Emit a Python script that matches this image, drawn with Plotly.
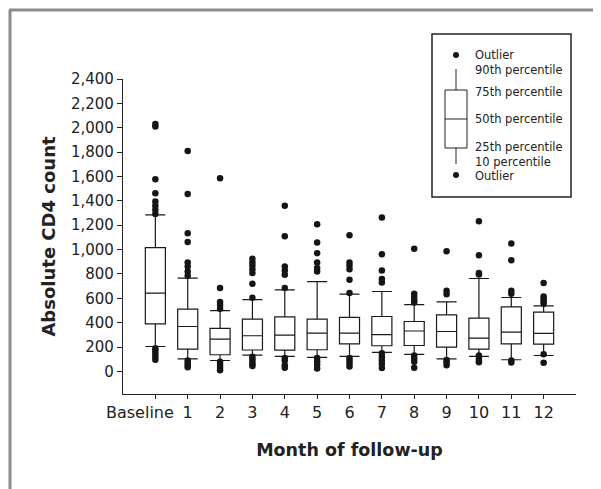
import plotly.graph_objects as go

categories = ["Baseline", "1", "2", "3", "4", "5", "6", "7", "8", "9", "10", "11", "12"]
p10 = [205, 104, 90, 134, 123, 115, 123, 156, 140, 104, 123, 96, 131]
q1 = [391, 183, 137, 176, 175, 178, 227, 211, 213, 200, 183, 227, 224]
median = [643, 369, 266, 293, 298, 315, 315, 303, 332, 328, 274, 323, 312]
q3 = [1017, 512, 353, 430, 448, 430, 443, 451, 410, 465, 438, 530, 487]
p90 = [1285, 766, 500, 590, 670, 738, 634, 656, 548, 571, 763, 607, 539]
outliers = [
    [2030, 2010, 1577, 1463, 1394, 1359, 1326, 1293, 190, 170, 145, 120, 96],
    [1810, 1457, 1135, 1063, 894, 861, 820, 785, 90, 70, 50, 35],
    [1586, 684, 570, 545, 515, 80, 55, 30, 10],
    [924, 897, 869, 839, 807, 719, 604, 120, 100, 80, 60, 45],
    [1359, 1110, 861, 828, 793, 684, 110, 90, 50, 30],
    [1208, 1058, 971, 894, 848, 820, 110, 82, 55, 25],
    [1118, 894, 867, 839, 752, 643, 110, 90, 65, 40],
    [1263, 962, 828, 758, 730, 150, 118, 91, 64, 28],
    [1006, 637, 610, 585, 565, 130, 105, 80, 30],
    [987, 662, 634, 95, 75, 50],
    [1233, 954, 807, 795, 130, 110, 90, 75],
    [1050, 913, 662, 637, 90, 74],
    [725, 615, 594, 574, 555, 142, 71],
]
y_ticks = list(range(0, 2401, 200))
legend_labels = ["Outlier", "90th percentile", "75th percentile", "50th percentile",
                 "25th percentile", "10 percentile", "Outlier"]
x_title = "Month of follow-up"
y_title = "Absolute CD4 count"

FONT = "DejaVu Sans"
OFF = 8  # page body margin
W, H = 601 - OFF, 489 - OFF
# plot area in page pixels: x 123..576, y 79..394
ML, MT = 123 - OFF, 79 - OFF
MR, MB = 601 - 576, 489 - 394
PW = W - ML - MR
PH = H - MT - MB


def px(x):
    return (x - OFF - ML) / PW


def py(y):
    return (H - MB - (y - OFF)) / PH


ox, oy = [], []
for c, vals in zip(categories, outliers):
    for v in vals:
        ox.append(c)
        oy.append(v)

fig = go.Figure()
fig.add_trace(go.Box(
    x=categories, q1=q1, median=median, q3=q3,
    lowerfence=p10, upperfence=p90,
    boxpoints=False, fillcolor="white",
    line=dict(color="#1a1a1a", width=1.2),
    whiskerwidth=1, width=0.62, showlegend=False,
))
fig.add_trace(go.Scatter(
    x=ox, y=oy, mode="markers",
    marker=dict(color="#151515", size=6.5),
    showlegend=False,
))

# first label is drawn as a right-aligned annotation (as in the original)
ticktext = ["" if i == 0 else c for i, c in enumerate(categories)]

fig.update_layout(
    width=W, height=H,
    margin=dict(l=ML, r=MR, t=MT, b=MB),
    paper_bgcolor="white", plot_bgcolor="white",
    font=dict(family=FONT, color="#222222"),
    xaxis=dict(
        type="category", range=[-1, 13],
        tickvals=categories, ticktext=ticktext, tickangle=0,
        ticks="outside", ticklen=4, tickcolor="#222", tickwidth=1,
        showline=True, linecolor="#222", linewidth=1.2,
        showgrid=False, zeroline=False,
        tickfont=dict(family=FONT, size=16, color="#222"),
        title=dict(text="<b>" + x_title + "</b>", font=dict(family=FONT, size=17.5, color="#222"), standoff=22),
    ),
    yaxis=dict(
        range=[-185, 2400], tickvals=y_ticks, tickformat=",",
        ticks="outside", ticklen=5, tickcolor="#222", tickwidth=1,
        showline=True, linecolor="#222", linewidth=1.2,
        showgrid=False, zeroline=False,
        tickfont=dict(family=FONT, size=15, color="#222"),
        title=dict(text="<b>" + y_title + "</b>", font=dict(family=FONT, size=18, color="#222"), standoff=10),
    ),
)

shapes = []
# outer frame (partially visible)
shapes.append(dict(type="line", xref="paper", yref="paper", x0=px(10), x1=px(10), y0=py(10), y1=py(489),
                   line=dict(color="#8c8c8c", width=3)))
shapes.append(dict(type="line", xref="paper", yref="paper", x0=px(9), x1=px(601), y0=py(10), y1=py(10),
                   line=dict(color="#8c8c8c", width=3)))
# legend box
shapes.append(dict(type="rect", xref="paper", yref="paper", x0=px(432), x1=px(571), y0=py(34), y1=py(197),
                   line=dict(color="#222", width=1.5), fillcolor="rgba(0,0,0,0)"))
# legend whisker
shapes.append(dict(type="line", xref="paper", yref="paper", x0=px(456), x1=px(456), y0=py(69), y1=py(90),
                   line=dict(color="#222", width=1)))
shapes.append(dict(type="line", xref="paper", yref="paper", x0=px(456), x1=px(456), y0=py(148), y1=py(164),
                   line=dict(color="#222", width=1)))
# legend mini box
shapes.append(dict(type="rect", xref="paper", yref="paper", x0=px(445), x1=px(467), y0=py(90), y1=py(148),
                   line=dict(color="#222", width=1), fillcolor="white"))
shapes.append(dict(type="line", xref="paper", yref="paper", x0=px(445), x1=px(467), y0=py(119), y1=py(119),
                   line=dict(color="#222", width=1)))
# legend dots
for yy in (55, 175):
    shapes.append(dict(type="circle", xref="paper", yref="paper", x0=px(453), x1=px(459), y0=py(yy - 3), y1=py(yy + 3),
                       line=dict(color="#151515", width=0), fillcolor="#151515"))
fig.update_layout(shapes=shapes)

label_y = [55, 70, 92, 119, 147, 162, 176]
annotations = []
for t, yy in zip(legend_labels, label_y):
    annotations.append(dict(text=t, xref="paper", yref="paper", x=px(473), y=py(yy),
                            xanchor="left", yanchor="middle", showarrow=False,
                            font=dict(family=FONT, size=11.5, color="#222")))
annotations.append(dict(text=categories[0], xref="x", yref="paper", x=categories[0], y=0,
                        xanchor="right", yanchor="middle", xshift=21, yshift=-18,
                        showarrow=False, font=dict(family=FONT, size=16, color="#222")))
fig.update_layout(annotations=annotations)

fig.write_html("out.html")
